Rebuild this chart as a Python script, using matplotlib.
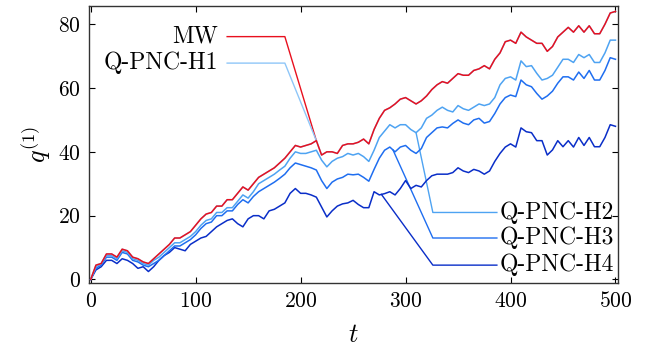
import numpy as np
import matplotlib
matplotlib.use("Agg")
import matplotlib.pyplot as plt

plt.rcParams["font.family"] = "cmr10"
plt.rcParams["mathtext.fontset"] = "cm"
plt.rcParams["axes.formatter.use_mathtext"] = True

# time grid (every 5 steps)
t = np.arange(0, 501, 5)

mw = [0, 4.5, 5, 8, 8, 7, 9.5, 9, 7, 6.5, 5.5, 5, 6.5, 8, 9.5, 11, 13, 13, 14, 15,
      17, 19, 20.5, 21, 23, 23, 25, 25, 27, 29, 28, 30, 32, 33, 34, 35, 36.5, 38, 40, 42,
      41.5, 42, 42.5, 43.5, 39, 40, 40, 39.5, 42, 42.5, 42.5, 43, 44, 42.5, 47, 50.5, 53, 53.8, 55, 56.5,
      57, 56, 55, 56, 57.5, 59.5, 61, 62, 61.5, 63, 64.5, 64, 64, 65.5, 66, 67, 66, 69, 71, 74.5,
      75, 74, 77.5, 76, 75, 74, 74, 71.5, 73, 76, 77.5, 79, 77.5, 79.5, 77.5, 79.5, 77, 77, 80, 83.5,
      84]
# Q-PNC-H1 lies on top of MW throughout
h1 = list(mw)
h2 = [0, 4, 5, 7.5, 7.5, 6.5, 9, 8.5, 6.5, 6, 5, 4.5, 6, 7, 8.5, 10, 11.5, 11.5, 12.5, 13.5,
      15, 17, 18.5, 19, 21, 21, 22.5, 22.5, 24.5, 26.5, 25.5, 27.5, 30, 31, 32, 33, 34.3, 35.5, 38, 40,
      39.5, 39.5, 40, 40.5, 37.4, 35.3, 37, 38, 38.5, 39.5, 39, 39.5, 38.5, 37, 40.5, 44.5, 46.5, 48.5, 47.5, 48.5,
      48.5, 47, 46, 47.5, 50.5, 51.5, 53, 54, 53, 52.5, 54.5, 53.5, 53, 54, 55, 54.5, 55, 57, 61, 63,
      63.5, 62.5, 68.5, 66.7, 67, 64.6, 62.5, 63, 64, 66.5, 69, 69, 68, 70.5, 69.5, 70.5, 68, 68, 71, 75,
      75]
h3 = [0, 3.5, 4.5, 7, 7, 6, 8.5, 8, 6, 5.5, 4.5, 4, 5, 6, 7.5, 9, 10.5, 10.5, 11.5, 12.5,
      14, 16, 17.5, 18, 20, 20, 21.5, 21.5, 23.5, 25, 24, 26, 27.5, 28.5, 29.5, 30.5, 31.7, 33, 35, 36.5,
      36, 35.5, 35, 34.3, 31, 28.5, 30.5, 31.5, 32, 33, 32.8, 33, 32, 30.8, 34.5, 38, 40.5, 41.5, 40, 41.5,
      42, 40.5, 39.5, 41, 44.5, 46, 47.5, 47.8, 47.5, 48.9, 50, 49, 48.5, 50, 50.5, 49, 49.5, 52, 55, 57,
      57.8, 57.3, 62.5, 61, 60.4, 58.3, 56.5, 57.5, 59, 61.5, 63.5, 63.5, 62.5, 65, 63, 65.5, 62.5, 62.5, 65.5, 69.5,
      69]
h4 = [0, 3, 4, 6, 6, 5, 6.5, 6, 5, 3.5, 4, 2.5, 4, 6, 7.5, 8.5, 10, 9.5, 9, 11,
      12, 13, 13.5, 15, 16.5, 17.5, 18.5, 19, 17.5, 16.5, 19, 20, 20, 19, 21.5, 22, 23, 24, 27, 28.5,
      27, 27, 26.5, 25.8, 22.7, 19.6, 21.5, 23, 23.7, 24, 24.8, 23.5, 22.5, 22.5, 27.5, 26.5, 26.9, 27.5, 26.5, 28.5,
      31, 28.5, 29.5, 29, 31, 32.5, 33, 33, 33, 33.5, 35, 34, 33.5, 34.5, 34, 33, 34, 37, 39.5, 41.5,
      42.5, 41.5, 47.5, 46.3, 46, 43.5, 43.5, 39, 40.6, 43.5, 41.6, 43.5, 41.5, 44.5, 42, 44.5, 41.6, 41.6, 44.5, 48.5,
      48]

names = ["MW", "Q-PNC-H1", "Q-PNC-H2", "Q-PNC-H3", "Q-PNC-H4"]
colors = ["#e8101e", "#8ec6f8", "#4ea3f2", "#1f6ef0", "#0a2ec8"]
series = [mw, h1, h2, h3, h4]

fig = plt.figure(figsize=(6.52, 3.54), dpi=100)
ax = fig.add_axes([0.137, 0.201, 0.811, 0.783])

# draw darkest first, MW on top
order = [4, 3, 2, 1, 0]
for i in order:
    ax.plot(t, series[i], color=colors[i], lw=1.1, zorder=3 + (4 - i))

# leader lines from the labels to the curves
left_labels = [(0, 76.1), (1, 67.8)]
for i, y in left_labels:
    tt = 215
    yy = np.interp(tt, t, series[i])
    ax.plot([130, 185, tt], [y, y, yy], color=colors[i], lw=1.0, zorder=2)
    ax.text(121, y, names[i], ha="right", va="center", fontsize=17)

right_labels = [(2, 21.0, 310), (3, 13.0, 288), (4, 4.5, 277)]
for i, y, tt in right_labels:
    yy = np.interp(tt, t, series[i])
    ax.plot([tt, 326, 387], [yy, y, y], color=colors[i], lw=1.0, zorder=2)
    ax.text(390, y, names[i], ha="left", va="center", fontsize=17)

ax.set_xlim(-1.3, 502.5)
ax.set_ylim(-1.05, 85.8)
ax.set_xticks([0, 100, 200, 300, 400, 500])
ax.set_yticks([0, 20, 40, 60, 80])
ax.tick_params(direction="in", top=True, right=True, labelsize=15.5, length=4, width=0.8, pad=6)
for s in ax.spines.values():
    s.set_linewidth(1.0)
    s.set_color("#333333")

ax.set_xlabel(r"$t$", fontsize=19, labelpad=9)
ax.set_ylabel(r"$q^{(1)}$", fontsize=19, labelpad=4)

fig.savefig("out.png", dpi=100)
